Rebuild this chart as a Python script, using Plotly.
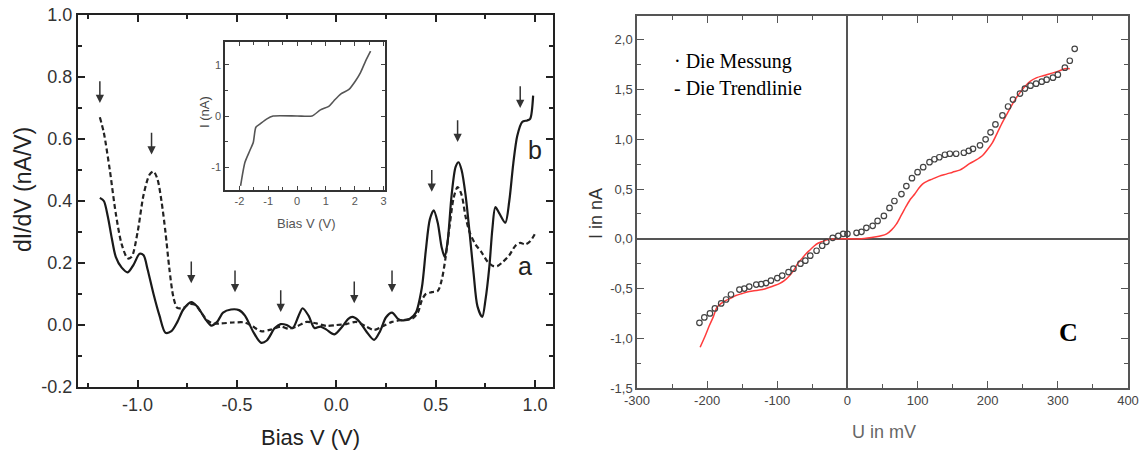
import plotly.graph_objects as go

# ---------------- data: left panel (dI/dV spectra) ----------------
curve_b = [(-1.19, 0.41), (-1.17, 0.40), (-1.15, 0.35), (-1.13, 0.28), (-1.11, 0.22),
           (-1.08, 0.185), (-1.05, 0.17), (-1.02, 0.195), (-0.99, 0.23), (-0.97, 0.225),
           (-0.95, 0.18), (-0.92, 0.10), (-0.89, 0.03), (-0.86, -0.025), (-0.83, -0.02),
           (-0.80, 0.01), (-0.77, 0.05), (-0.73, 0.074), (-0.70, 0.06), (-0.66, 0.02),
           (-0.63, -0.002), (-0.60, 0.01), (-0.57, 0.04), (-0.53, 0.05), (-0.49, 0.048),
           (-0.46, 0.03), (-0.42, -0.02), (-0.38, -0.057), (-0.35, -0.05), (-0.31, -0.01),
           (-0.28, 0.003), (-0.25, 0.0), (-0.22, -0.01), (-0.19, 0.03), (-0.17, 0.054),
           (-0.14, 0.03), (-0.11, -0.01), (-0.08, -0.005), (-0.05, -0.015), (-0.01, -0.03),
           (0.03, -0.005), (0.06, 0.02), (0.08, 0.026), (0.11, 0.015), (0.15, -0.02),
           (0.19, -0.048), (0.22, -0.02), (0.25, 0.025), (0.28, 0.04), (0.31, 0.02),
           (0.33, 0.015), (0.37, 0.02), (0.40, 0.04), (0.43, 0.12), (0.45, 0.24),
           (0.47, 0.34), (0.49, 0.37), (0.51, 0.33), (0.53, 0.25), (0.545, 0.22),
           (0.56, 0.27), (0.58, 0.42), (0.60, 0.51), (0.615, 0.525), (0.63, 0.50),
           (0.65, 0.42), (0.67, 0.30), (0.69, 0.17), (0.71, 0.06), (0.734, 0.026),
           (0.75, 0.08), (0.77, 0.19), (0.785, 0.31), (0.80, 0.38), (0.82, 0.36),
           (0.85, 0.33), (0.87, 0.40), (0.89, 0.52), (0.91, 0.61), (0.935, 0.655),
           (0.96, 0.66), (0.975, 0.665), (0.99, 0.74)]

curve_a = [(-1.19, 0.67), (-1.17, 0.62), (-1.14, 0.50), (-1.11, 0.36), (-1.08, 0.26),
           (-1.05, 0.215), (-1.03, 0.22), (-1.00, 0.30), (-0.97, 0.42), (-0.94, 0.485),
           (-0.92, 0.495), (-0.90, 0.47), (-0.88, 0.40), (-0.86, 0.30), (-0.84, 0.18),
           (-0.82, 0.09), (-0.80, 0.055), (-0.77, 0.055), (-0.74, 0.068), (-0.71, 0.065),
           (-0.68, 0.04), (-0.65, 0.015), (-0.62, 0.005), (-0.58, 0.005), (-0.52, 0.008),
           (-0.46, 0.008), (-0.42, -0.005), (-0.38, -0.02), (-0.33, -0.015), (-0.28, -0.005),
           (-0.24, -0.012), (-0.20, -0.005), (-0.15, 0.01), (-0.10, 0.005), (-0.05, -0.003),
           (0.00, 0.0), (0.05, 0.003), (0.10, 0.01), (0.15, -0.005), (0.19, -0.016),
           (0.23, -0.005), (0.28, 0.01), (0.33, 0.016), (0.38, 0.02), (0.41, 0.04),
           (0.43, 0.08), (0.45, 0.10), (0.48, 0.106), (0.51, 0.11), (0.53, 0.145),
           (0.55, 0.22), (0.57, 0.32), (0.59, 0.41), (0.61, 0.445), (0.63, 0.42),
           (0.65, 0.35), (0.67, 0.30), (0.70, 0.26), (0.73, 0.235), (0.76, 0.205),
           (0.79, 0.19), (0.81, 0.19), (0.84, 0.205), (0.87, 0.225), (0.90, 0.255),
           (0.925, 0.265), (0.95, 0.26), (0.975, 0.27), (1.0, 0.295)]

left_xticks = [-1.0, -0.5, 0.0, 0.5, 1.0]
left_xticklabels = ["-1.0", "-0.5", "0.0", "0.5", "1.0"]
left_yticks = [-0.2, 0.0, 0.2, 0.4, 0.6, 0.8, 1.0]
left_yticklabels = ["-0.2", "0.0", "0.2", "0.4", "0.6", "0.8", "1.0"]

# peak markers (arrow head position and arrow tail height)
arrow_V = [-1.19, -0.93, -0.73, -0.51, -0.28, 0.09, 0.28, 0.48, 0.61, 0.925]
arrow_head = [0.716, 0.55, 0.135, 0.106, 0.042, 0.07, 0.106, 0.43, 0.59, 0.70]
arrow_len = 0.075

# inset: I(V)
inset_V = [-1.96, -1.81, -1.64, -1.52, -1.43, -1.29, -1.06, -0.83, 0.0, 0.52,
           0.81, 1.10, 1.28, 1.51, 1.80, 2.03, 2.20, 2.38, 2.55]
inset_I = [-1.37, -0.91, -0.68, -0.52, -0.22, -0.16, -0.06, 0.0, 0.0, 0.0,
           0.12, 0.19, 0.30, 0.43, 0.52, 0.69, 0.85, 1.08, 1.27]
inset_xticks = [-2, -1, 0, 1, 2, 3]
inset_xticklabels = ["-2", "-1", "0", "1", "2", "3"]
inset_yticks = [-1, 0, 1]
inset_yticklabels = ["-1", "0", "1"]

# ---------------- data: right panel (I-U curve) ----------------
meas_U = [-211, -204, -196, -189, -180, -173, -166, -154, -147, -140, -130, -123, -116,
          -109, -100, -93, -84, -77, -67, -60, -53, -44, -36, -30, -21, -13, -6, 0, 13,
          20, 27, 36, 43, 52, 60, 67, 77, 84, 92, 100, 108, 117, 124, 131, 139, 146, 155,
          166, 173, 179, 189, 197, 204, 211, 221, 229, 236, 246, 253, 261, 269, 277, 284,
          293, 300, 310, 317, 324]
meas_I = [-0.845, -0.79, -0.75, -0.70, -0.65, -0.61, -0.56, -0.51, -0.50, -0.48, -0.46,
          -0.455, -0.445, -0.42, -0.395, -0.37, -0.335, -0.30, -0.25, -0.22, -0.17, -0.12,
          -0.07, -0.03, 0.01, 0.03, 0.05, 0.05, 0.06, 0.07, 0.11, 0.13, 0.18, 0.23, 0.31,
          0.38, 0.45, 0.53, 0.61, 0.67, 0.72, 0.77, 0.80, 0.82, 0.845, 0.855, 0.855, 0.865,
          0.885, 0.905, 0.94, 1.0, 1.07, 1.15, 1.24, 1.33, 1.40, 1.46, 1.51, 1.54, 1.56,
          1.58, 1.60, 1.62, 1.65, 1.72, 1.79, 1.91]

trend_U = [-210, -203, -197, -191, -186, -180, -173, -166, -159, -150, -140, -130, -121,
           -112, -104, -97, -90, -85, -80, -75, -71, -65, -59, -53, -47, -42, -37, -33,
           -29, -22, -16, -8, 0, 20, 41, 48, 56, 63, 70, 77, 84, 90, 96, 102, 107, 114,
           121, 131, 141, 150, 160, 167, 174, 183, 193, 200, 207, 214, 221, 228, 234, 240,
           246, 253, 260, 270, 279, 289, 299, 310, 317]
trend_I = [-1.09, -0.98, -0.875, -0.78, -0.69, -0.65, -0.62, -0.595, -0.57, -0.55, -0.53,
           -0.52, -0.51, -0.49, -0.47, -0.45, -0.42, -0.39, -0.35, -0.30, -0.25, -0.20,
           -0.15, -0.11, -0.07, -0.045, -0.03, -0.02, -0.01, -0.004, 0.0, 0.0, 0.0, 0.0,
           0.02, 0.03, 0.05, 0.09, 0.15, 0.24, 0.33, 0.40, 0.45, 0.51, 0.55, 0.58, 0.60,
           0.63, 0.65, 0.67, 0.69, 0.72, 0.755, 0.79, 0.84, 0.90, 0.97, 1.07, 1.17, 1.26,
           1.34, 1.41, 1.47, 1.53, 1.58, 1.62, 1.64, 1.66, 1.68, 1.71, 1.71]

right_yticks = [-1.5, -1.0, -0.5, 0.0, 0.5, 1.0, 1.5, 2.0]
right_yticklabels = ["-1,5", "-1,0", "-0,5", "0,0", "0,5", "1,0", "1,5", "2,0"]
right_xticks = [-300, -200, -100, 0, 100, 200, 300, 400]
right_xticklabels = ["-300", "-200", "-100", "0", "100", "200", "300", "400"]

# ---------------- figure ----------------
W, H = 1142, 452


def fx(p):
    return p / W


def fy(p):
    return 1 - p / H


SANS = "Liberation Sans, Arial, sans-serif"
NARROW = "Liberation Sans Narrow, Arial Narrow, Liberation Sans, sans-serif"
SERIF = "Liberation Serif, Times New Roman, serif"

fig = go.Figure()

fig.add_trace(go.Scatter(x=[p[0] for p in curve_b], y=[p[1] for p in curve_b],
                         mode="lines", line=dict(color="#1a1a1a", width=2.2, shape="spline",
                                                 smoothing=0.8),
                         xaxis="x", yaxis="y", showlegend=False, hoverinfo="skip"))
fig.add_trace(go.Scatter(x=[p[0] for p in curve_a], y=[p[1] for p in curve_a],
                         mode="lines", line=dict(color="#222", width=2.2, dash="5px,3px",
                                                 shape="spline", smoothing=0.8),
                         xaxis="x", yaxis="y", showlegend=False, hoverinfo="skip"))

fig.add_trace(go.Scatter(x=inset_V, y=inset_I, mode="lines",
                         line=dict(color="#555", width=1.6, shape="spline", smoothing=0.6),
                         xaxis="x2", yaxis="y2", showlegend=False, hoverinfo="skip"))

fig.add_trace(go.Scatter(x=trend_U, y=trend_I, mode="lines",
                         line=dict(color="#ff3b3b", width=1.5, shape="spline", smoothing=0.8),
                         xaxis="x3", yaxis="y3", showlegend=False, hoverinfo="skip"))
fig.add_trace(go.Scatter(x=meas_U, y=meas_I, mode="markers",
                         marker=dict(symbol="circle-open", size=5.5, color="#444",
                                     line=dict(width=1.2, color="#444")),
                         xaxis="x3", yaxis="y3", showlegend=False, hoverinfo="skip"))

frame_dark = dict(showline=True, linecolor="#222", linewidth=2, mirror="ticks",
                  ticks="inside", tickcolor="#222", tickwidth=1.5, showgrid=False,
                  zeroline=False, automargin=False)
frame_inset = dict(showline=True, linecolor="#333", linewidth=1.5, mirror="ticks",
                   ticks="inside", tickcolor="#444", tickwidth=1, showgrid=False,
                   zeroline=False, automargin=False, ticklen=4,
                   tickfont=dict(family=SANS, size=11, color="#555"))
frame_right = dict(showline=True, linecolor="#555", linewidth=1.5, mirror="ticks",
                   ticks="inside", tickcolor="#555", tickwidth=1.2, showgrid=False,
                   zeroline=True, zerolinecolor="#555", zerolinewidth=1.5,
                   automargin=False, ticklen=7,
                   tickfont=dict(family=NARROW, size=13, color="#444"))

fig.update_layout(
    template="none",
    width=W, height=H,
    margin=dict(l=0, r=0, t=0, b=0, pad=0),
    paper_bgcolor="white", plot_bgcolor="white",
    xaxis=dict(domain=[fx(78), fx(553)], anchor="y", range=[-1.30, 1.09],
               tickvals=left_xticks, ticktext=left_xticklabels, ticklen=7,
               minor=dict(dtick=0.25, tick0=0, ticks="inside", ticklen=4, tickcolor="#222"),
               tickfont=dict(family=SANS, size=18, color="#333"), **frame_dark),
    yaxis=dict(domain=[fy(387), fy(15)], anchor="x", range=[-0.2, 1.0],
               tickvals=left_yticks, ticktext=left_yticklabels, ticklen=7,
               minor=dict(dtick=0.1, tick0=0, ticks="inside", ticklen=4, tickcolor="#222"),
               tickfont=dict(family=SANS, size=18, color="#333"), **frame_dark),
    xaxis2=dict(domain=[fx(225), fx(385)], anchor="y2", range=[-2.5, 3.05],
                tickvals=inset_xticks, ticktext=inset_xticklabels,
                minor=dict(dtick=0.5, tick0=0, ticks="inside", ticklen=3, tickcolor="#444"),
                **frame_inset),
    yaxis2=dict(domain=[fy(190), fy(42)], anchor="x2", range=[-1.45, 1.45],
                tickvals=inset_yticks, ticktext=inset_yticklabels,
                minor=dict(dtick=0.5, tick0=0, ticks="inside", ticklen=3, tickcolor="#444"),
                **frame_inset),
    xaxis3=dict(domain=[fx(637), fx(1128)], anchor="y3", range=[-300, 400],
                tickvals=right_xticks, ticktext=right_xticklabels,
                minor=dict(dtick=50, tick0=0, ticks="inside", ticklen=4, tickcolor="#555"),
                **frame_right),
    yaxis3=dict(domain=[fy(388), fy(16)], anchor="x3", range=[-1.5, 2.24],
                tickvals=right_yticks, ticktext=right_yticklabels,
                minor=dict(dtick=0.25, tick0=0, ticks="inside", ticklen=4, tickcolor="#555"),
                **frame_right),
)

annotations = []

# peak arrows on the spectra
for v, h in zip(arrow_V, arrow_head):
    annotations.append(dict(x=v, y=h, ax=v, ay=h + arrow_len, xref="x", yref="y",
                            axref="x", ayref="y", showarrow=True, arrowhead=2,
                            arrowsize=1.1, arrowwidth=1.5, arrowcolor="#333", text=""))


def label(x, y, text, size, color, family=SANS, angle=0, xanchor="center", xref="paper",
          yref="paper"):
    return dict(x=x, y=y, xref=xref, yref=yref, text=text, textangle=angle,
                showarrow=False, xanchor=xanchor, yanchor="middle",
                font=dict(family=family, size=size, color=color))


# curve labels
annotations.append(label(1.0, 0.565, "b", 25, "#222", xref="x", yref="y"))
annotations.append(label(0.95, 0.19, "a", 25, "#222", xref="x", yref="y"))

# axis titles (placed in paper coordinates)
annotations += [
    label(fx(23), fy(190), "dI/dV (nA/V)", 23, "#222", angle=-90),
    label(fx(310), fy(437), "Bias V (V)", 22, "#222"),
    label(fx(205), fy(112), "I (nA)", 13, "#444", angle=-90),
    label(fx(306), fy(223), "Bias V (V)", 13, "#555"),
    label(fx(596), fy(214), "I in nA", 18, "#333", angle=-90),
    label(fx(884), fy(432), "U in mV", 18, "#666"),
]

# legend text and panel letter
annotations += [
    label(fx(672), fy(62), "· Die Messung", 20, "#000", family=SERIF, xanchor="left"),
    label(fx(672), fy(88), "- Die Trendlinie", 20, "#000", family=SERIF, xanchor="left"),
    label(fx(1068), fy(332), "<b>C</b>", 26, "#000", family=SERIF),
]

fig.update_layout(annotations=annotations)

fig.write_html("out.html")
